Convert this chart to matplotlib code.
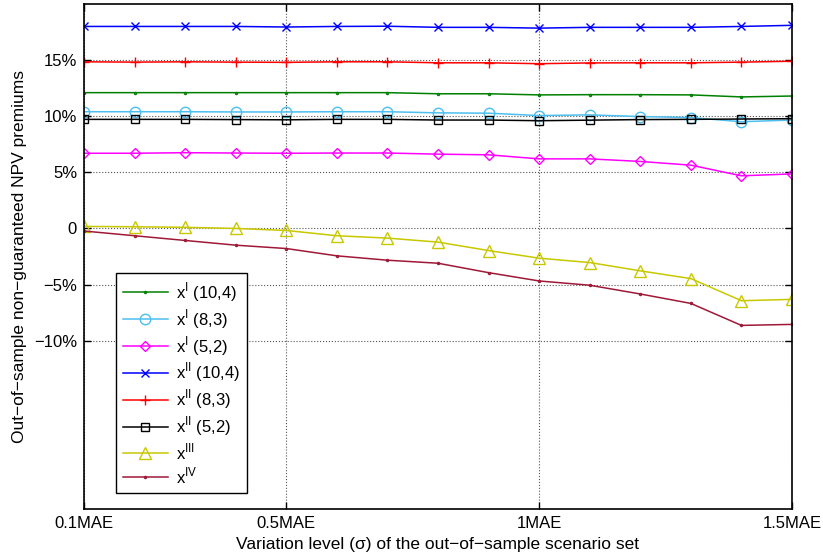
import numpy as np
import matplotlib
matplotlib.use('Agg')
import matplotlib.pyplot as plt

plt.rcParams['font.family'] = ['Liberation Sans', 'DejaVu Sans']
plt.rcParams['mathtext.fontset'] = 'custom'
plt.rcParams['mathtext.rm'] = 'Liberation Sans'

# variation level (multiples of MAE)
sigma = [0.1, 0.2, 0.3, 0.4, 0.5, 0.6, 0.7, 0.8, 0.9, 1.0, 1.1, 1.2, 1.3, 1.4, 1.5]

# premiums in %
xI_10_4 = [12.1, 12.1, 12.1, 12.1, 12.1, 12.1, 12.1, 12.0, 12.0, 11.9, 11.92, 11.92, 11.9, 11.72, 11.8]
xI_8_3 = [10.4, 10.4, 10.4, 10.38, 10.38, 10.4, 10.4, 10.3, 10.27, 10.06, 10.12, 9.97, 9.88, 9.51, 9.66]
xI_5_2 = [6.7, 6.7, 6.75, 6.72, 6.7, 6.72, 6.72, 6.62, 6.56, 6.2, 6.2, 5.97, 5.64, 4.69, 4.86]
xII_10_4 = [18.0, 18.0, 18.0, 18.0, 17.95, 18.0, 18.02, 17.92, 17.92, 17.85, 17.92, 17.92, 17.92, 18.0, 18.1]
xII_8_3 = [14.85, 14.82, 14.85, 14.82, 14.8, 14.85, 14.85, 14.76, 14.76, 14.68, 14.75, 14.76, 14.76, 14.82, 14.9]
xII_5_2 = [9.72, 9.72, 9.72, 9.7, 9.68, 9.72, 9.72, 9.66, 9.66, 9.6, 9.65, 9.7, 9.72, 9.75, 9.78]
xIII = [0.18, 0.15, 0.1, 0.0, -0.18, -0.65, -0.86, -1.22, -1.97, -2.65, -3.04, -3.78, -4.47, -6.44, -6.32]
xIV = [-0.23, -0.65, -1.07, -1.49, -1.79, -2.44, -2.83, -3.1, -3.94, -4.68, -5.06, -5.84, -6.68, -8.64, -8.55]

xticks = [0.1, 0.5, 1.0, 1.5]
xtick_labels = ['0.1MAE', '0.5MAE', '1MAE', '1.5MAE']
yticks = [-10, -5, 0, 5, 10, 15]
ytick_labels = ['\u221210%', '\u22125%', '0', '5%', '10%', '15%']

fig = plt.figure(figsize=(8.23, 5.6), dpi=100)
ax = fig.add_axes([84 / 823, 1 - 509 / 560, 708 / 823, 505 / 560])

series = [
    (xI_10_4, '#008000', '.', 3, 'x$^{\\mathregular{I}}$ (10,4)'),
    (xI_8_3, '#4cbfef', 'o', 7.5, 'x$^{\\mathregular{I}}$ (8,3)'),
    (xI_5_2, '#ff00ff', 'D', 5.5, 'x$^{\\mathregular{I}}$ (5,2)'),
    (xII_10_4, '#0000ff', 'x', 5.5, 'x$^{\\mathregular{II}}$ (10,4)'),
    (xII_8_3, '#ff0000', '+', 7, 'x$^{\\mathregular{II}}$ (8,3)'),
    (xII_5_2, '#000000', 's', 5.5, 'x$^{\\mathregular{II}}$ (5,2)'),
    (xIII, '#c8c800', '^', 8, 'x$^{\\mathregular{III}}$'),
    (xIV, '#a01838', '.', 3, 'x$^{\\mathregular{IV}}$'),
]
for vals, col, mk, ms, lab in series:
    ax.plot(sigma, vals, color=col, marker=mk, markersize=ms, markerfacecolor='none',
            markeredgecolor=col, linewidth=1.1, markeredgewidth=1, label=lab)

ax.set_xlim(0.1, 1.5)
ax.set_ylim(-25, 20)
ax.set_xticks(xticks)
ax.set_xticklabels(xtick_labels, fontsize=12)
ax.set_yticks(yticks)
ax.set_yticklabels(ytick_labels, fontsize=12)
ax.tick_params(direction='in', top=True, right=True, length=5, width=1, pad=5)
ax.grid(True, linestyle=':', color='#555555', linewidth=0.8)
for s in ax.spines.values():
    s.set_linewidth(1.2)

ax.set_xlabel('Variation level (\u03c3) of the out\u2212of\u2212sample scenario set', fontsize=12.5, labelpad=4)
ax.set_ylabel('Out\u2212of\u2212sample non\u2212guaranteed NPV premiums', fontsize=12.5, labelpad=5)

leg = ax.legend(loc='lower left', bbox_to_anchor=(0.045, 0.032), borderaxespad=0,
                fontsize=12, fancybox=False, framealpha=1, edgecolor='black',
                handlelength=2.7, handletextpad=0.5, labelspacing=0.2, borderpad=0.4)
leg.get_frame().set_linewidth(1)

fig.savefig('out.png', dpi=100)
